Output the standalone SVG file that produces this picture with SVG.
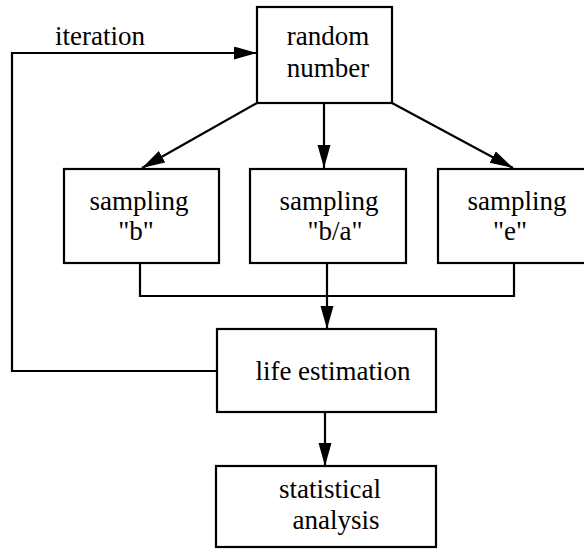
<svg xmlns="http://www.w3.org/2000/svg" width="584" height="549" viewBox="0 0 584 549">
<style>
.box{fill:#fff;stroke:#000;stroke-width:2.2}
.t{font-family:"Liberation Serif","Times New Roman",serif;font-size:27px;fill:#000;text-anchor:middle}
.c{fill:none;stroke:#000;stroke-width:2.2}
</style>
<defs>
<marker id="ah" markerUnits="userSpaceOnUse" markerWidth="24" markerHeight="14" refX="23" refY="6.5" orient="auto">
<path d="M0,0 L23,6.5 L0,13 z" fill="#000"/>
</marker>
</defs>
<rect width="584" height="549" fill="#fff"/>
<g id="connectors">
<polyline class="c" points="217,371 12,371 12,53 257,53" marker-end="url(#ah)"/>
<line class="c" x1="257" y1="103" x2="142" y2="168" marker-end="url(#ah)"/>
<line class="c" x1="324" y1="103" x2="324" y2="168" marker-end="url(#ah)"/>
<line class="c" x1="392" y1="103" x2="513" y2="168" marker-end="url(#ah)"/>
<polyline class="c" points="140,263 140,296 514,296 514,263"/>
<line class="c" x1="327" y1="263" x2="327" y2="329" marker-end="url(#ah)"/>
<line class="c" x1="325" y1="412" x2="325" y2="466" marker-end="url(#ah)"/>
<text class="t" x="55" y="45" style="text-anchor:start">iteration</text>
</g>
<g id="random">
<rect class="box" x="257" y="7" width="135" height="96"/>
<text class="t" x="328" y="45">random</text>
<text class="t" x="328" y="77">number</text>
</g>
<g id="sampling-b">
<rect class="box" x="64" y="169" width="155" height="94"/>
<text class="t" x="139" y="210">sampling</text>
<text class="t" x="136" y="240">"b"</text>
</g>
<g id="sampling-ba">
<rect class="box" x="250" y="169" width="156" height="94"/>
<text class="t" x="329" y="210">sampling</text>
<text class="t" x="335" y="240">"b/a"</text>
</g>
<g id="sampling-e">
<rect class="box" x="438" y="169" width="160" height="94"/>
<text class="t" x="517" y="210">sampling</text>
<text class="t" x="510" y="240">"e"</text>
</g>
<g id="life">
<rect class="box" x="217" y="329" width="219" height="83"/>
<text class="t" x="333" y="380">life estimation</text>
</g>
<g id="stats">
<rect class="box" x="216" y="466" width="220" height="81"/>
<text class="t" x="330" y="498">statistical</text>
<text class="t" x="336" y="529">analysis</text>
</g>
</svg>
